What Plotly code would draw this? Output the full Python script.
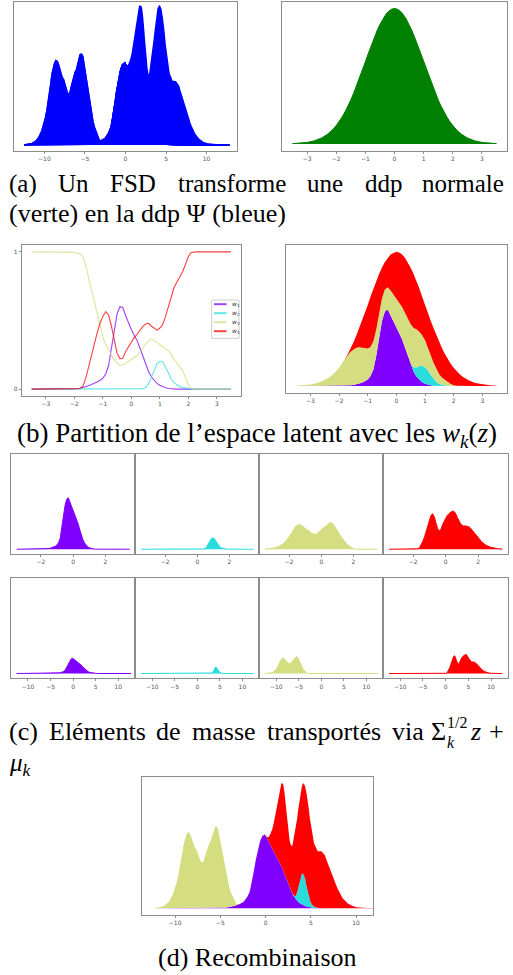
import plotly.graph_objects as go

FIG_W, FIG_H = 513, 975

# ---------------- data ----------------
# latent grid z and standard-normal density (green)
Z = [-3.5, -3.25, -3.0, -2.75, -2.5, -2.3,
     -2.2, -2.1, -2.0, -1.9, -1.8, -1.7, -1.6, -1.5, -1.4, -1.3, -1.2, -1.1,
     -1.0, -0.9, -0.8, -0.7, -0.6, -0.5, -0.4, -0.3, -0.2, -0.1,
     0.0, 0.1, 0.2, 0.3, 0.4, 0.5, 0.6, 0.7, 0.8, 0.9, 1.0, 1.1, 1.2, 1.3,
     1.4, 1.5, 1.6, 1.7, 1.8, 1.9, 2.0, 2.1, 2.2,
     2.3, 2.5, 2.75, 3.0, 3.25, 3.5]
G = [0.0009, 0.0020, 0.0044, 0.0091, 0.0175, 0.0283,
     0.0355, 0.0440, 0.0540, 0.0656, 0.0790, 0.0940, 0.1109, 0.1295, 0.1497, 0.1714, 0.1942, 0.2179,
     0.2420, 0.2661, 0.2897, 0.3123, 0.3332, 0.3521, 0.3683, 0.3814, 0.3910, 0.3970,
     0.3989, 0.3970, 0.3910, 0.3814, 0.3683, 0.3521, 0.3332, 0.3123, 0.2897, 0.2661, 0.2420, 0.2179, 0.1942, 0.1714,
     0.1497, 0.1295, 0.1109, 0.0940, 0.0790, 0.0656, 0.0540, 0.0440, 0.0355,
     0.0283, 0.0175, 0.0091, 0.0044, 0.0020, 0.0009]

# partition weights w1..w4 (panel b, left)
W1 = [0, 0, 0, 0, 0, 0,
      0, 0.001, 0.002, 0.004, 0.007, 0.011, 0.017, 0.024, 0.033, 0.042, 0.051, 0.063,
      0.08, 0.11, 0.17, 0.29, 0.44, 0.55, 0.60, 0.595, 0.535, 0.48,
      0.435, 0.39, 0.355, 0.30, 0.24, 0.18, 0.13, 0.09, 0.062, 0.042, 0.028, 0.018, 0.01, 0.005,
      0.002, 0.001, 0, 0, 0, 0, 0, 0, 0,
      0, 0, 0, 0, 0, 0]
W2 = [0, 0, 0, 0, 0, 0,
      0, 0, 0, 0, 0, 0, 0, 0, 0, 0, 0, 0,
      0, 0, 0, 0, 0, 0, 0, 0, 0, 0,
      0, 0, 0, 0, 0.004, 0.012, 0.038, 0.085, 0.14, 0.185, 0.203, 0.198, 0.16, 0.115,
      0.075, 0.045, 0.03, 0.019, 0.012, 0.007, 0.004, 0.002, 0,
      0, 0, 0, 0, 0, 0]
W3 = [1, 1, 1, 1, 1, 1,
      1.0, 0.999, 0.996, 0.991, 0.985, 0.965, 0.90, 0.81, 0.725, 0.63, 0.535, 0.455,
      0.38, 0.325, 0.29, 0.25, 0.21, 0.19, 0.178, 0.175, 0.19, 0.205,
      0.215, 0.235, 0.245, 0.27, 0.30, 0.33, 0.35, 0.365, 0.355, 0.34, 0.33, 0.315, 0.30, 0.28,
      0.255, 0.215, 0.19, 0.165, 0.135, 0.085, 0.03, 0.005, 0,
      0, 0, 0, 0, 0, 0]
W4 = [0, 0, 0, 0, 0, 0,
      0, 0, 0.002, 0.004, 0.007, 0.022, 0.08, 0.165, 0.24, 0.325, 0.41, 0.48,
      0.53, 0.565, 0.54, 0.46, 0.35, 0.26, 0.222, 0.225, 0.275, 0.31,
      0.35, 0.375, 0.40, 0.43, 0.455, 0.475, 0.48, 0.46, 0.445, 0.43, 0.445, 0.47, 0.53, 0.60,
      0.668, 0.74, 0.78, 0.816, 0.855, 0.908, 0.966, 0.995, 1.0,
      1, 1, 1, 1, 1, 1]
WEIGHTS = [W1, W2, W3, W4]
NAMES = ["<i>w</i><sub>1</sub>", "<i>w</i><sub>2</sub>", "<i>w</i><sub>3</sub>", "<i>w</i><sub>4</sub>"]
COLORS = ["#8000ff", "#2adddd", "#d4dd80", "#ff0000"]

# transport x = mu_k + sigma_k^{1/2} z  (1-D scale and shift)
SCALE = [3.4, 1.75, 1.58, 2.0]
SHIFT = [0.94, 2.44, -6.38, 3.55]
X_LIM = [-12.5, 12.5]

TICKS_Z = [-3, -2, -1, 0, 1, 2, 3]
TICKS_Z2 = [-2, 0, 2]
TICKS_X = [-10, -5, 0, 5, 10]

for arr in WEIGHTS + [G]:
    assert len(arr) == len(Z)

# ---------------- derived series ----------------
MASS_Z = [[w * g for w, g in zip(Wk, G)] for Wk in WEIGHTS]


def transported(k):
    xs = [SHIFT[k] + SCALE[k] * z for z in Z]
    ys = [m / SCALE[k] for m in MASS_Z[k]]
    if xs[0] > X_LIM[0]:
        xs = [X_LIM[0]] + xs
        ys = [0.0] + ys
    if xs[-1] < X_LIM[1]:
        xs = xs + [X_LIM[1]]
        ys = ys + [0.0]
    return xs, ys


MASS_X = [transported(k) for k in range(4)]

# ---------------- layout helpers ----------------
def fx(p):
    return p / FIG_W


def fy(p):
    return 1 - p / FIG_H


FRAME = "#8c8c8c"
TICKFONT = dict(family="DejaVu Sans", size=6, color="#555555")

AXES = [
    # id, x0, x1, y0, y1 (pixels), xrange, yrange, xticks
    ("a1", 14, 237, 1.7, 150.7, [-13.75, 13.75], [-0.0046, 0.1166], TICKS_X),
    ("a2", 282.3, 506.7, 1.7, 150.7, [-3.85, 3.85], [-0.02, 0.419], TICKS_Z),
    ("b1", 21.7, 241, 245, 396, [-3.85, 3.85], [-0.05, 1.05], TICKS_Z),
    ("b2", 286, 506.7, 245, 392.7, [-3.85, 3.85], [-0.02, 0.419], TICKS_Z),
    ("c1", 11, 135.3, 454, 554, [-3.85, 3.85], [-0.021, 0.42], TICKS_Z2),
    ("c2", 135.3, 259.3, 454, 554, [-3.85, 3.85], [-0.021, 0.42], TICKS_Z2),
    ("c3", 259.3, 383.3, 454, 554, [-3.85, 3.85], [-0.021, 0.42], TICKS_Z2),
    ("c4", 383.3, 508, 454, 554, [-3.85, 3.85], [-0.021, 0.42], TICKS_Z2),
    ("c5", 11, 135.3, 578, 678.3, [-13.75, 13.75], [-0.021, 0.42], TICKS_X),
    ("c6", 135.3, 259.3, 578, 678.3, [-13.75, 13.75], [-0.021, 0.42], TICKS_X),
    ("c7", 259.3, 383.3, 578, 678.3, [-13.75, 13.75], [-0.021, 0.42], TICKS_X),
    ("c8", 383.3, 508, 578, 678.3, [-13.75, 13.75], [-0.021, 0.42], TICKS_X),
    ("d", 142, 373.3, 777.3, 915, [-13.66, 11.9], [-0.0061, 0.1184], TICKS_X),
]
AXREF = {}
layout_kw = {}
for i, (name, x0, x1, y0, y1, xr, yr, xt) in enumerate(AXES, start=1):
    sfx = "" if i == 1 else str(i)
    AXREF[name] = ("x" + sfx, "y" + sfx)
    layout_kw["xaxis" + sfx] = dict(
        domain=[fx(x0), fx(x1)], anchor="y" + sfx, range=xr, tickvals=xt,
        showline=True, mirror=True, linecolor=FRAME, linewidth=1,
        ticks="outside", ticklen=2, tickcolor=FRAME, tickfont=TICKFONT,
        showgrid=False, zeroline=False, fixedrange=True)
    layout_kw["yaxis" + sfx] = dict(
        domain=[fy(y1), fy(y0)], anchor="x" + sfx, range=yr,
        showline=True, mirror=True, linecolor=FRAME, linewidth=1,
        showticklabels=False, ticks="", showgrid=False, zeroline=False, fixedrange=True)
# panel b left has y ticks 0 and 1
b1y = "yaxis" + str([a[0] for a in AXES].index("b1") + 1)
layout_kw[b1y].update(showticklabels=True, tickvals=[0, 1], ticks="outside",
                      ticklen=2, tickcolor=FRAME, tickfont=TICKFONT)

fig = go.Figure()


def add(trace, ax):
    xa, ya = AXREF[ax]
    trace.update(xaxis=xa, yaxis=ya)
    fig.add_trace(trace)


# (a) left: Psi = sum of transported masses (stacked, all blue)
for k in range(4):
    xs, ys = MASS_X[k]
    add(go.Scatter(x=xs, y=ys, mode="lines", stackgroup="psi", stackgaps="interpolate",
                   line=dict(color="#0000ff", width=1.5), fillcolor="#0000ff",
                   showlegend=False, hoverinfo="skip"), "a1")
# (a) right: normal density
add(go.Scatter(x=Z, y=G, mode="lines", fill="tozeroy", line=dict(color="#008000", width=1),
               fillcolor="#008000", showlegend=False, hoverinfo="skip"), "a2")

# (b) left: weights
for k in range(4):
    add(go.Scatter(x=Z, y=WEIGHTS[k], mode="lines", name=NAMES[k],
                   line=dict(color=COLORS[k], width=1.1), opacity=0.75,
                   showlegend=False), "b1")
# (b) right: stacked partition of the normal density
for k in range(4):
    add(go.Scatter(x=Z, y=MASS_Z[k], mode="lines", stackgroup="part",
                   line=dict(color=COLORS[k], width=0), fillcolor=COLORS[k],
                   showlegend=False, hoverinfo="skip"), "b2")

# (c) masses in latent space and transported
for k in range(4):
    add(go.Scatter(x=Z, y=MASS_Z[k], mode="lines", fill="tozeroy",
                   line=dict(color=COLORS[k], width=1), fillcolor=COLORS[k],
                   showlegend=False, hoverinfo="skip"), "c%d" % (k + 1))
    xs, ys = MASS_X[k]
    add(go.Scatter(x=xs, y=ys, mode="lines", fill="tozeroy",
                   line=dict(color=COLORS[k], width=1), fillcolor=COLORS[k],
                   showlegend=False, hoverinfo="skip"), "c%d" % (k + 5))

# (d) recombination (stacked)
for k in range(4):
    xs, ys = MASS_X[k]
    add(go.Scatter(x=xs, y=ys, mode="lines", stackgroup="rec", stackgaps="interpolate",
                   line=dict(color=COLORS[k], width=0), fillcolor=COLORS[k],
                   showlegend=False, hoverinfo="skip"), "d")

# ---------------- legend box of panel (b) left ----------------
shapes = [dict(type="rect", xref="paper", yref="paper",
               x0=fx(211.7), x1=fx(239), y0=fy(338.3), y1=fy(300),
               line=dict(color="#cccccc", width=1), fillcolor="white", layer="above")]
ann = []
for k in range(4):
    yk = 304.2 + 9.0 * k
    shapes.append(dict(type="line", xref="paper", yref="paper",
                       x0=fx(214), x1=fx(226.5), y0=fy(yk), y1=fy(yk),
                       line=dict(color=COLORS[k], width=2), opacity=0.75, layer="above"))
    ann.append(dict(text=NAMES[k], x=fx(229.5), y=fy(yk), xref="paper", yref="paper",
                    xanchor="left", yanchor="middle", showarrow=False,
                    font=dict(family="DejaVu Sans", size=6, color="#333333")))

# ---------------- captions ----------------
CAP = dict(family="Liberation Serif", size=26, color="black")


def word(text, x, y, anchor="left", size=None):
    f = dict(CAP)
    if size:
        f["size"] = size
    ann.append(dict(text=text, x=fx(x), y=fy(y), xref="paper", yref="paper",
                    xanchor=anchor, yanchor="middle", showarrow=False, font=f,
                    borderpad=0))


# justified first lines: word by word
for t, x in zip(["(a)", "Un", "FSD", "transforme", "une", "ddp"],
                [8, 57, 109, 177, 306, 364]):
    word(t, x, 184, size=25)
word("normale", 505, 184, anchor="right", size=25)
word("(verte) en la ddp Ψ (bleue)", 8, 213, size=26)
word("(b) Partition de l’espace latent avec les <i>w<sub>k</sub></i>(<i>z</i>)", 257, 435,
     anchor="center", size=27)
for t, x in zip(["(c)", "Eléments", "de", "masse", "transportés", "via", "Σ"],
                [8, 48, 155, 191, 266, 391, 430]):
    word(t, x, 731)
word("1/2", 446, 722, size=16)
word("<i>k</i>", 446, 742, size=16)
word("<i>z</i>", 469, 731)
word("+", 505, 731, anchor="right")
word("<i>μ<sub>k</sub></i>", 8, 764, size=25)
word("(d) Recombinaison", 257, 957, anchor="center")

layout_kw.update(
    width=FIG_W, height=FIG_H, margin=dict(l=0, r=0, t=0, b=0),
    paper_bgcolor="white", plot_bgcolor="white",
    annotations=ann, shapes=shapes, showlegend=False,
)
fig.update_layout(**layout_kw)
fig.write_html("out.html", config={"displayModeBar": False},
               post_script="document.body.style.margin='0px';")
